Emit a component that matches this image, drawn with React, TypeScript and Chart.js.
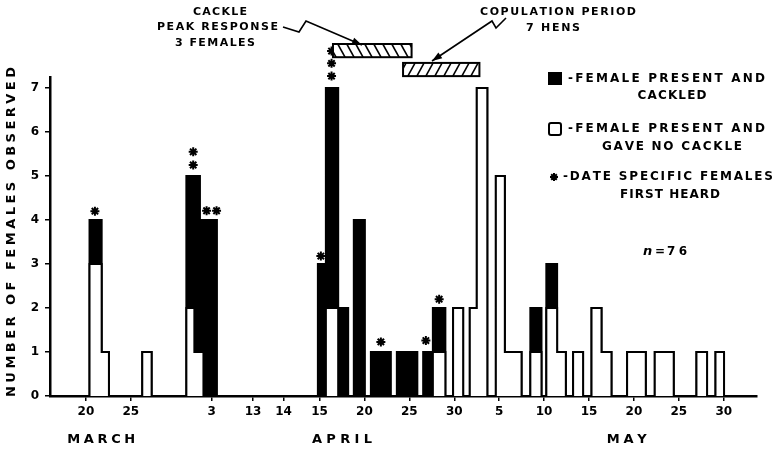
import React, { useEffect, useRef } from 'react';
import { Chart, registerables } from 'chart.js';

Chart.register(...registerables);

// Day numbers: 1 = 1 March, 32 = 1 April, 62 = 1 May
const barStart = [20.4, 21.75, 26.27, 31.18, 32.07, 32.69, 33.08, 45.82, 46.71, 48.08, 49.82, 51.72, 54.61, 57.54, 58.62, 60.87, 62.73, 63.51, 65.63, 66.63, 69.47, 71.25, 72.45, 74.23, 76.28, 77.39, 80.24, 83.32, 87.96, 90.08];
const barEnd = [21.75, 22.56, 27.31, 32.07, 32.69, 33.08, 34.58, 46.71, 48.08, 49.19, 51.05, 53.94, 56.89, 58.62, 60.01, 61.99, 63.51, 64.68, 66.63, 68.49, 70.71, 72.45, 73.42, 75.34, 77.39, 78.5, 82.32, 85.43, 89.14, 91.03];
const totalFemales = [4, 1, 1, 5, 5, 4, 4, 3, 7, 2, 4, 1, 1, 1, 2, 2, 2, 7, 5, 1, 2, 3, 1, 1, 2, 1, 1, 1, 1, 1];
const noCackleFemales = [3, 1, 1, 2, 1, 1, 0, 0, 2, 0, 0, 0, 0, 0, 1, 2, 2, 7, 5, 1, 1, 2, 1, 1, 2, 1, 1, 1, 1, 1];

// Dates on which specific females were first heard (asterisks)
const starDay = [21.0, 31.94, 31.94, 33.43, 34.54, 46.15, 47.34, 47.34, 47.34, 52.83, 57.84, 59.32];
const starLevel = [4.2, 5.25, 5.55, 4.21, 4.21, 3.18, 7.27, 7.56, 7.84, 1.23, 1.26, 2.2];

const xTickDays = [20, 25, 34, 38.6, 42, 46, 51, 56, 61, 66, 71, 76, 81, 86, 91];
const xTickLabels = ['20', '25', '3', '13', '14', '15', '20', '25', '30', '5', '10', '15', '20', '25', '30'];
const yTickValues = [0, 1, 2, 3, 4, 5, 6, 7];
const monthNames = ['MARCH', 'APRIL', 'MAY'];
const monthCenterDays = [21.7, 48.5, 80.2];
const cacklePeakSpan = [47.5, 56.25];
const copulationSpan = [55.3, 63.8];

const FONT = "'DejaVu Sans', 'Liberation Sans', sans-serif";

function outline(values: number[]) {
  const pts: { x: number; y: number }[] = [];
  for (let i = 0; i < barStart.length; i++) {
    const s = barStart[i];
    const e = barEnd[i];
    const v = values[i];
    const joined = i > 0 && Math.abs(barEnd[i - 1] - s) < 1e-6;
    if (joined) pts.pop();
    else pts.push({ x: s, y: 0 });
    pts.push({ x: s, y: v }, { x: e, y: v }, { x: e, y: 0 });
  }
  return pts;
}

function spaced(ctx: CanvasRenderingContext2D, text: string, left: number, cy: number, width: number) {
  const chars = Array.from(text);
  const widths = chars.map((c) => ctx.measureText(c).width);
  const natural = widths.reduce((a, b) => a + b, 0);
  const gap = chars.length > 1 ? (width - natural) / (chars.length - 1) : 0;
  let xx = left;
  chars.forEach((c, i) => {
    ctx.fillText(c, xx, cy);
    xx += widths[i] + gap;
  });
}

function spacedCenter(ctx: CanvasRenderingContext2D, text: string, cx: number, cy: number, width: number) {
  spaced(ctx, text, cx - width / 2, cy, width);
}

function hatchBox(ctx: CanvasRenderingContext2D, x0: number, x1: number, y0: number, y1: number, forward: boolean) {
  ctx.save();
  ctx.fillStyle = '#fff';
  ctx.fillRect(x0, y0, x1 - x0, y1 - y0);
  ctx.beginPath();
  ctx.rect(x0, y0, x1 - x0, y1 - y0);
  ctx.clip();
  ctx.lineWidth = 1.6;
  const h = y1 - y0;
  for (let px = x0 - h; px < x1 + h; px += 9) {
    ctx.beginPath();
    if (forward) {
      ctx.moveTo(px, y1);
      ctx.lineTo(px + h * 0.55, y0);
    } else {
      ctx.moveTo(px, y0);
      ctx.lineTo(px + h * 0.55, y1);
    }
    ctx.stroke();
  }
  ctx.restore();
  ctx.lineWidth = 2;
  ctx.strokeRect(x0, y0, x1 - x0, y1 - y0);
}

function arrow(ctx: CanvasRenderingContext2D, pts: number[][]) {
  ctx.lineWidth = 1.6;
  ctx.beginPath();
  ctx.moveTo(pts[0][0], pts[0][1]);
  for (let i = 1; i < pts.length; i++) ctx.lineTo(pts[i][0], pts[i][1]);
  ctx.stroke();
  const [ax, ay] = pts[pts.length - 1];
  const [bx, by] = pts[pts.length - 2];
  const ang = Math.atan2(ay - by, ax - bx);
  const len = 10;
  const hw = 3.5;
  ctx.beginPath();
  ctx.moveTo(ax, ay);
  ctx.lineTo(ax - len * Math.cos(ang) + hw * Math.sin(ang), ay - len * Math.sin(ang) - hw * Math.cos(ang));
  ctx.lineTo(ax - len * Math.cos(ang) - hw * Math.sin(ang), ay - len * Math.sin(ang) + hw * Math.cos(ang));
  ctx.closePath();
  ctx.fill();
}

function star(ctx: CanvasRenderingContext2D, cx: number, cy: number, r: number) {
  ctx.lineWidth = 2;
  ctx.lineCap = 'butt';
  ctx.beginPath();
  for (let k = 0; k < 4; k++) {
    const a = (k * Math.PI) / 4;
    ctx.moveTo(cx - r * Math.cos(a), cy - r * Math.sin(a));
    ctx.lineTo(cx + r * Math.cos(a), cy + r * Math.sin(a));
  }
  ctx.stroke();
}

const annotations = {
  id: 'annotations',
  afterDatasetsDraw(chart: any) {
    const { ctx } = chart;
    const x = chart.scales.x;
    const y = chart.scales.y;
    ctx.save();
    ctx.strokeStyle = '#000';
    starDay.forEach((d, i) => star(ctx, x.getPixelForValue(d), y.getPixelForValue(starLevel[i]), 4.5));
    ctx.restore();
  },
  afterDraw(chart: any) {
    const { ctx } = chart;
    const x = chart.scales.x;
    const y = chart.scales.y;
    ctx.save();
    ctx.fillStyle = '#000';
    ctx.strokeStyle = '#000';
    ctx.textBaseline = 'middle';
    ctx.textAlign = 'left';

    // y axis title
    ctx.save();
    ctx.translate(12, 232);
    ctx.rotate(-Math.PI / 2);
    ctx.font = `bold 13px ${FONT}`;
    spaced(ctx, 'NUMBER OF FEMALES OBSERVED', -165, 0, 330);
    ctx.restore();

    // months
    ctx.font = `bold 13px ${FONT}`;
    const monthWidths = [68, 60, 40];
    monthNames.forEach((m, i) => spacedCenter(ctx, m, x.getPixelForValue(monthCenterDays[i]), 440, monthWidths[i]));

    // hatched period boxes
    hatchBox(ctx, x.getPixelForValue(cacklePeakSpan[0]), x.getPixelForValue(cacklePeakSpan[1]), y.getPixelForValue(8.0), y.getPixelForValue(7.7), false);
    hatchBox(ctx, x.getPixelForValue(copulationSpan[0]), x.getPixelForValue(copulationSpan[1]), y.getPixelForValue(7.57), y.getPixelForValue(7.27), true);

    // annotation texts
    ctx.font = `bold 11px ${FONT}`;
    spaced(ctx, 'CACKLE', 193, 12, 54);
    spaced(ctx, 'PEAK RESPONSE', 157, 27, 121);
    spaced(ctx, '3 FEMALES', 175, 43, 80);
    spaced(ctx, 'COPULATION PERIOD', 480, 12, 156);
    spaced(ctx, '7 HENS', 526, 28, 54);

    arrow(ctx, [[283, 27], [299, 32], [306, 21], [362, 45]]);
    arrow(ctx, [[506, 18], [496, 28], [492, 21], [432, 61]]);

    // legend
    ctx.font = `bold 12px ${FONT}`;
    ctx.fillRect(548, 72, 14, 13);
    spaced(ctx, '-FEMALE PRESENT AND', 568, 79, 197);
    spacedCenter(ctx, 'CACKLED', 672, 96, 69);
    ctx.lineWidth = 2;
    ctx.beginPath();
    if ((ctx as any).roundRect) (ctx as any).roundRect(549, 123, 12, 12, 2);
    else ctx.rect(549, 123, 12, 12);
    ctx.stroke();
    spaced(ctx, '-FEMALE PRESENT AND', 568, 129, 197);
    spacedCenter(ctx, 'GAVE NO CACKLE', 672, 147, 140);
    star(ctx, 554, 177, 4);
    spaced(ctx, '-DATE SPECIFIC FEMALES', 563, 177, 210);
    spacedCenter(ctx, 'FIRST HEARD', 670, 195, 100);

    // n = 76
    ctx.font = `italic bold 13px ${FONT}`;
    ctx.fillText('n', 643, 252);
    ctx.font = `bold 12px ${FONT}`;
    ctx.fillText('=', 655, 252);
    spaced(ctx, '76', 667, 252, 20);

    ctx.restore();
  },
};

export default function App() {
  const ref = useRef<HTMLCanvasElement | null>(null);

  useEffect(() => {
    if (!ref.current) return;
    const chart = new Chart(ref.current, {
      type: 'line',
      data: {
        datasets: [
          {
            label: 'present, no cackle',
            data: outline(noCackleFemales),
            borderColor: '#000',
            borderWidth: 2,
            backgroundColor: '#fff',
            fill: 'origin',
            pointRadius: 0,
            tension: 0,
            borderJoinStyle: 'miter',
            order: 1,
          },
          {
            label: 'present, cackled',
            data: outline(totalFemales),
            borderColor: '#000',
            borderWidth: 2,
            backgroundColor: '#000',
            fill: 'origin',
            pointRadius: 0,
            tension: 0,
            borderJoinStyle: 'miter',
            order: 2,
          },
        ],
      },
      options: {
        animation: false,
        responsive: false,
        devicePixelRatio: 1,
        layout: { padding: { top: 77, right: 19, left: 0, bottom: 0 } },
        plugins: { legend: { display: false }, tooltip: { enabled: false } },
        scales: {
          x: {
            type: 'linear',
            min: 16,
            max: 94.7,
            afterBuildTicks: (s: any) => {
              s.ticks = xTickDays.map((v) => ({ value: v }));
            },
            afterFit: (s: any) => {
              s.height = 57;
            },
            ticks: {
              callback: (_v: any, i: number) => xTickLabels[i],
              autoSkip: false,
              maxRotation: 0,
              color: '#000',
              padding: 4,
              font: { family: FONT, size: 12, weight: 'bold' },
            },
            grid: { drawOnChartArea: false, drawTicks: true, tickLength: 5, color: '#000', lineWidth: 1.5 },
            border: { display: true, color: '#000', width: 2.5 },
          },
          y: {
            min: 0,
            max: 7.25,
            afterBuildTicks: (s: any) => {
              s.ticks = yTickValues.map((v) => ({ value: v }));
            },
            afterFit: (s: any) => {
              s.width = 50;
            },
            ticks: {
              color: '#000',
              padding: 6,
              font: { family: FONT, size: 12, weight: 'bold' },
            },
            grid: { drawOnChartArea: false, drawTicks: true, tickLength: 5, color: '#000', lineWidth: 1.5 },
            border: { display: true, color: '#000', width: 2.5 },
          },
        },
      } as any,
      plugins: [annotations],
    });
    return () => chart.destroy();
  }, []);

  return (
    <div style={{ position: 'absolute', left: 0, top: 0, width: 776, height: 453, background: '#fff' }}>
      <canvas ref={ref} width={776} height={453} style={{ display: 'block', width: 776, height: 453 }} />
    </div>
  );
}
